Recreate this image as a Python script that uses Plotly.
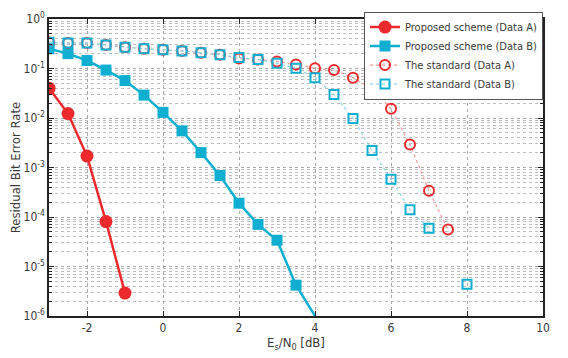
import plotly.graph_objects as go

# ---- data ----
x_prop_a = [-3, -2.5, -2, -1.5, -1]
y_prop_a = [0.04, 0.0123, 1.7e-3, 8.1e-5, 2.9e-6]

x_prop_b = [-3, -2.5, -2, -1.5, -1, -0.5, 0, 0.5, 1, 1.5, 2, 2.5, 3, 3.5, 4.5]
y_prop_b = [0.25, 0.2, 0.145, 0.093, 0.057, 0.029, 0.013, 5.5e-3, 2.0e-3,
            6.9e-4, 1.9e-4, 7.1e-5, 3.4e-5, 4.2e-6, 2.4e-7]

x_std_a = [-3, -2.5, -2, -1.5, -1, -0.5, 0, 0.5, 1, 1.5, 2, 2.5, 3, 3.5,
           4, 4.5, 5, 5.5, 6, 6.5, 7, 7.5]
y_std_a = [0.34, 0.326, 0.326, 0.30, 0.27, 0.25, 0.238, 0.227, 0.208, 0.19,
           0.159, 0.152, 0.139, 0.121, 0.101, 0.093, 0.065, 0.039, 0.0154,
           2.9e-3, 3.4e-4, 5.6e-5]

x_std_b = [-3, -2.5, -2, -1.5, -1, -0.5, 0, 0.5, 1, 1.5, 2, 2.5, 3, 3.5,
           4, 4.5, 5, 5.5, 6, 6.5, 7, 7.5, 8]
y_std_b = [0.34, 0.326, 0.326, 0.30, 0.27, 0.25, 0.238, 0.227, 0.208, 0.19,
           0.166, 0.152, 0.127, 0.101, 0.065, 0.030, 9.8e-3, 2.2e-3, 5.8e-4,
           1.4e-4, 5.9e-5, None, 4.4e-6]

x_ticks = [-2, 0, 2, 4, 6, 8, 10]
x_ticktext = ["-2", "0", "2", "4", "6", "8", "10"]
y_tickvals = [1e-6, 1e-5, 1e-4, 1e-3, 1e-2, 1e-1, 1]
y_ticktext = ["10<sup>-6</sup>", "10<sup>-5</sup>", "10<sup>-4</sup>", "10<sup>-3</sup>",
              "10<sup>-2</sup>", "10<sup>-1</sup>", "10<sup>0</sup>"]

RED = "#EC2A2E"
BLUE = "#10AED0"
FONT = "Liberation Sans Narrow, DejaVu Sans Condensed, Liberation Sans, Arial"
TXT = "#3a3a3a"

fig = go.Figure()
fig.add_trace(go.Scatter(x=x_prop_a, y=y_prop_a, mode="lines+markers",
                         name="Proposed scheme (Data A)",
                         line=dict(color=RED, width=2.5),
                         marker=dict(symbol="circle", size=13, color=RED)))
fig.add_trace(go.Scatter(x=x_prop_b, y=y_prop_b, mode="lines+markers",
                         name="Proposed scheme (Data B)",
                         line=dict(color=BLUE, width=2.5),
                         marker=dict(symbol="square", size=11, color=BLUE)))
fig.add_trace(go.Scatter(x=x_std_a, y=y_std_a, mode="lines+markers",
                         name="The standard (Data A)",
                         line=dict(color="#F29A9C", width=1.2, dash="dot"),
                         marker=dict(symbol="circle-open", size=10, color=RED,
                                     line=dict(width=2, color=RED))))
fig.add_trace(go.Scatter(x=x_std_b, y=y_std_b, mode="lines+markers",
                         name="The standard (Data B)", connectgaps=False,
                         line=dict(color="#8AD4E6", width=1.2, dash="dot"),
                         marker=dict(symbol="square-open", size=9, color=BLUE,
                                     line=dict(width=2, color=BLUE))))

axis_common = dict(showline=True, linecolor="#222", linewidth=1.5, mirror="ticks",
                   ticks="inside", ticklen=5, tickcolor="#222",
                   gridcolor="#a8a8a8", griddash="dot", gridwidth=1,
                   zeroline=False, tickfont=dict(family=FONT, size=12, color=TXT))

fig.update_xaxes(range=[-3, 10], tickvals=x_ticks, ticktext=x_ticktext,
                 title=dict(text="E<sub>s</sub>/N<sub>0</sub> [dB]", standoff=4,
                            font=dict(family=FONT, size=13, color=TXT)),
                 **axis_common)
fig.update_yaxes(type="log", range=[-6, 0], tickvals=y_tickvals, ticktext=y_ticktext,
                 title=dict(text="Residual Bit Error Rate", standoff=0,
                            font=dict(family=FONT, size=13, color=TXT)),
                 minor=dict(dtick="D1", ticks="inside", ticklen=3, tickcolor="#222",
                            showgrid=True, gridcolor="#bdbdbd", griddash="dot"),
                 **axis_common)

fig.update_layout(
    width=568, height=358,
    margin=dict(l=49, r=25, t=10, b=40),
    paper_bgcolor="white", plot_bgcolor="white",
    font=dict(family=FONT, size=12, color=TXT),
    legend=dict(x=1, y=1.025, xanchor="right", yanchor="top",
                bgcolor="white", bordercolor="#555", borderwidth=1,
                font=dict(family=FONT, size=11, color=TXT),
                itemwidth=30, tracegroupgap=0),
    showlegend=True,
)

fig.write_html("out.html")
